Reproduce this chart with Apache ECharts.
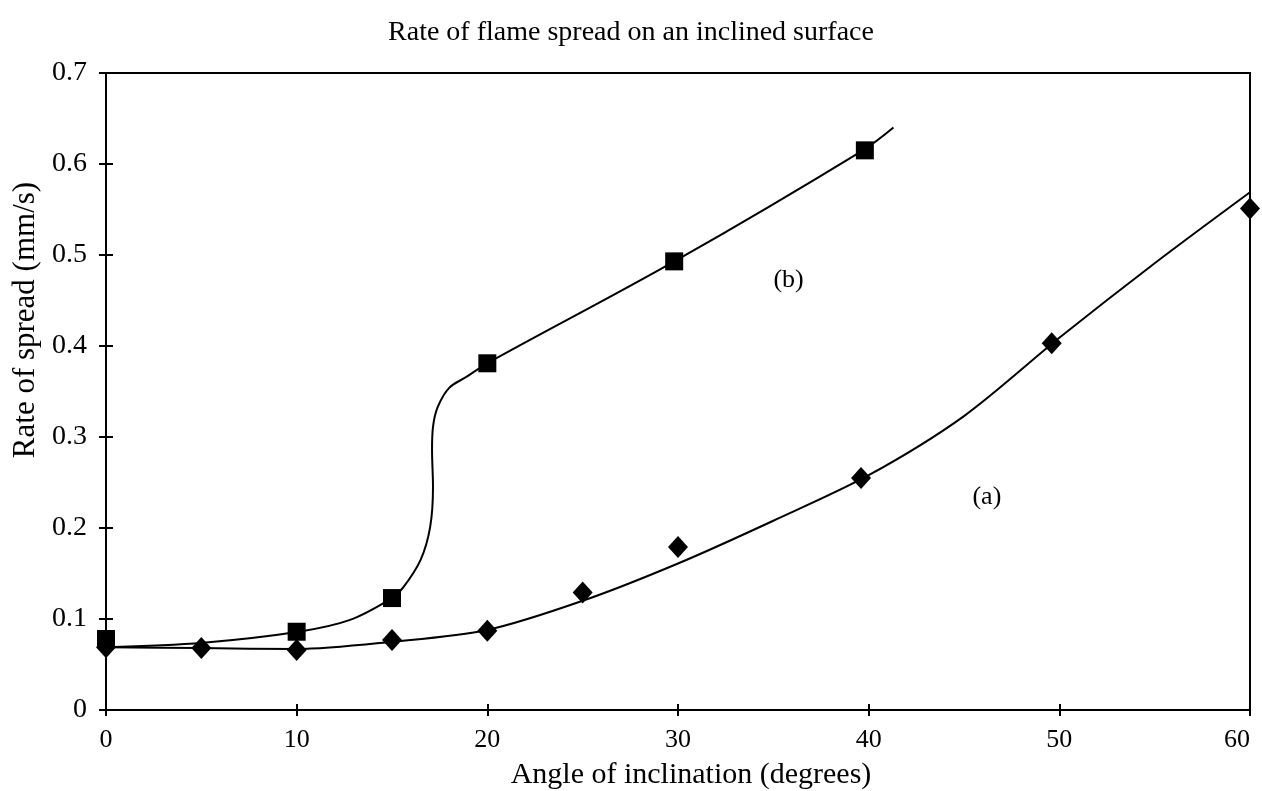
<!DOCTYPE html>
<html>
<head>
<meta charset="utf-8">
<script src="https://cdn.jsdelivr.net/npm/echarts@6/dist/echarts.min.js"></script>
<style>
    html,body{margin:0;padding:0;background:#fff;}
    #chart{width:1262px;height:791px;}
</style>
</head>
<body>
<div id="chart"></div>
<script>
// 测量点 (a) 菱形
let aAngle = [0, 5, 10, 15, 20, 25, 30, 39.6, 49.6, 60]
let aRate = [0.069, 0.068, 0.066, 0.077, 0.087, 0.129, 0.179, 0.255, 0.403, 0.551]
// 测量点 (b) 方块
let bAngle = [0, 10, 15, 20, 29.8, 39.8]
let bRate = [0.078, 0.086, 0.123, 0.381, 0.493, 0.615]

// 拟合曲线 (a)
let aFitX = [0, 5, 10, 15, 20, 25, 30, 35, 40, 45, 50, 55, 60]
let aFitY = [0.069, 0.068, 0.067, 0.075, 0.088, 0.120, 0.161, 0.208, 0.258, 0.323, 0.409, 0.491, 0.569]
// 拟合曲线 (b)
let bFitX = [0, 5.1, 10.1, 12.8, 15.0, 15.6, 16.5, 17.0, 17.15, 17.1, 17.15, 17.4, 18.0, 18.9, 20.0, 29.9, 39.7, 41.3]
let bFitY = [0.069, 0.074, 0.086, 0.099, 0.123, 0.135, 0.165, 0.201, 0.245, 0.286, 0.311, 0.333, 0.354, 0.366, 0.381, 0.494, 0.615, 0.640]

// 曲线标注
let curveLabels = [['(b)', 35.8, 0.472], ['(a)', 46.2, 0.234]]

let font = "'Liberation Serif', 'Times New Roman', serif"
let pair = (xs, ys) => xs.map((x, i) => [x, ys[i]])

let chart = echarts.init(document.getElementById('chart'))

let baseX = {
    type: 'value',
    min: 0,
    max: 60,
    interval: 10,
    splitLine: {show: false},
    axisLine: {lineStyle: {color: '#000', width: 2}}
}
let baseY = {
    type: 'value',
    min: 0,
    max: 0.7,
    interval: 0.1,
    splitLine: {show: false},
    axisLine: {lineStyle: {color: '#000', width: 2}}
}

let option = {
    animation: false,
    backgroundColor: '#fff',
    title: {
        text: 'Rate of flame spread on an inclined surface',
        left: 'center',
        top: 14,
        textStyle: {fontFamily: font, fontWeight: 'normal', fontSize: 28, color: '#000'}
    },
    graphic: [{
        type: 'text',
        x: 26,
        y: 320,
        rotation: Math.PI / 2,
        style: {
            text: 'Rate of spread (mm/s)',
            fontFamily: font,
            fontSize: 31,
            fill: '#000',
            align: 'center',
            verticalAlign: 'middle'
        }
    }],
    grid: {
        left: 106,
        right: 12,
        top: 73,
        bottom: 81,
        outerBoundsMode: 'none',
        show: true,
        borderColor: '#000',
        borderWidth: 2
    },
    xAxis: [
        Object.assign({}, baseX, {
            name: 'Angle of inclination (degrees)',
            nameLocation: 'middle',
            nameGap: 50,
            nameTextStyle: {fontFamily: font, fontSize: 30, color: '#000', padding: [0, 0, 0, 26]},
            axisTick: {length: 6, lineStyle: {color: '#000', width: 2}},
            axisLabel: {fontFamily: font, fontSize: 26, color: '#000', margin: 17, alignMaxLabel: 'right'}
        }),
        Object.assign({}, baseX, {
            position: 'bottom',
            axisLine: {show: false},
            axisTick: {inside: true, length: 6, lineStyle: {color: '#000', width: 2}},
            axisLabel: {show: false}
        })
    ],
    yAxis: [
        Object.assign({}, baseY, {
            axisTick: {length: 7, lineStyle: {color: '#000', width: 2}},
            axisLabel: {fontFamily: font, fontSize: 28, color: '#000', margin: 19}
        }),
        Object.assign({}, baseY, {
            position: 'left',
            axisLine: {show: false},
            axisTick: {inside: true, length: 7, lineStyle: {color: '#000', width: 2}},
            axisLabel: {show: false}
        })
    ],
    series: [
        {
            type: 'line',
            data: pair(aFitX, aFitY),
            smooth: 0.3,
            showSymbol: false,
            lineStyle: {color: '#000', width: 2}
        },
        {
            type: 'line',
            data: pair(bFitX, bFitY),
            smooth: 0.35,
            showSymbol: false,
            lineStyle: {color: '#000', width: 2}
        },
        {
            type: 'scatter',
            data: pair(aAngle, aRate),
            symbol: 'diamond',
            symbolSize: [20, 22],
            clip: false,
            itemStyle: {color: '#000', opacity: 1}
        },
        {
            type: 'scatter',
            data: pair(bAngle, bRate),
            symbol: 'rect',
            symbolSize: 18,
            clip: false,
            itemStyle: {color: '#000', opacity: 1}
        },
        {
            type: 'scatter',
            data: curveLabels.map(e => ({value: [e[1], e[2]], name: e[0]})),
            symbolSize: 0,
            itemStyle: {opacity: 1},
            label: {
                show: true,
                position: 'inside',
                formatter: p => p.name,
                fontFamily: font,
                fontSize: 26,
                color: '#000'
            }
        }
    ]
}

chart.setOption(option)
</script>
</body>
</html>
